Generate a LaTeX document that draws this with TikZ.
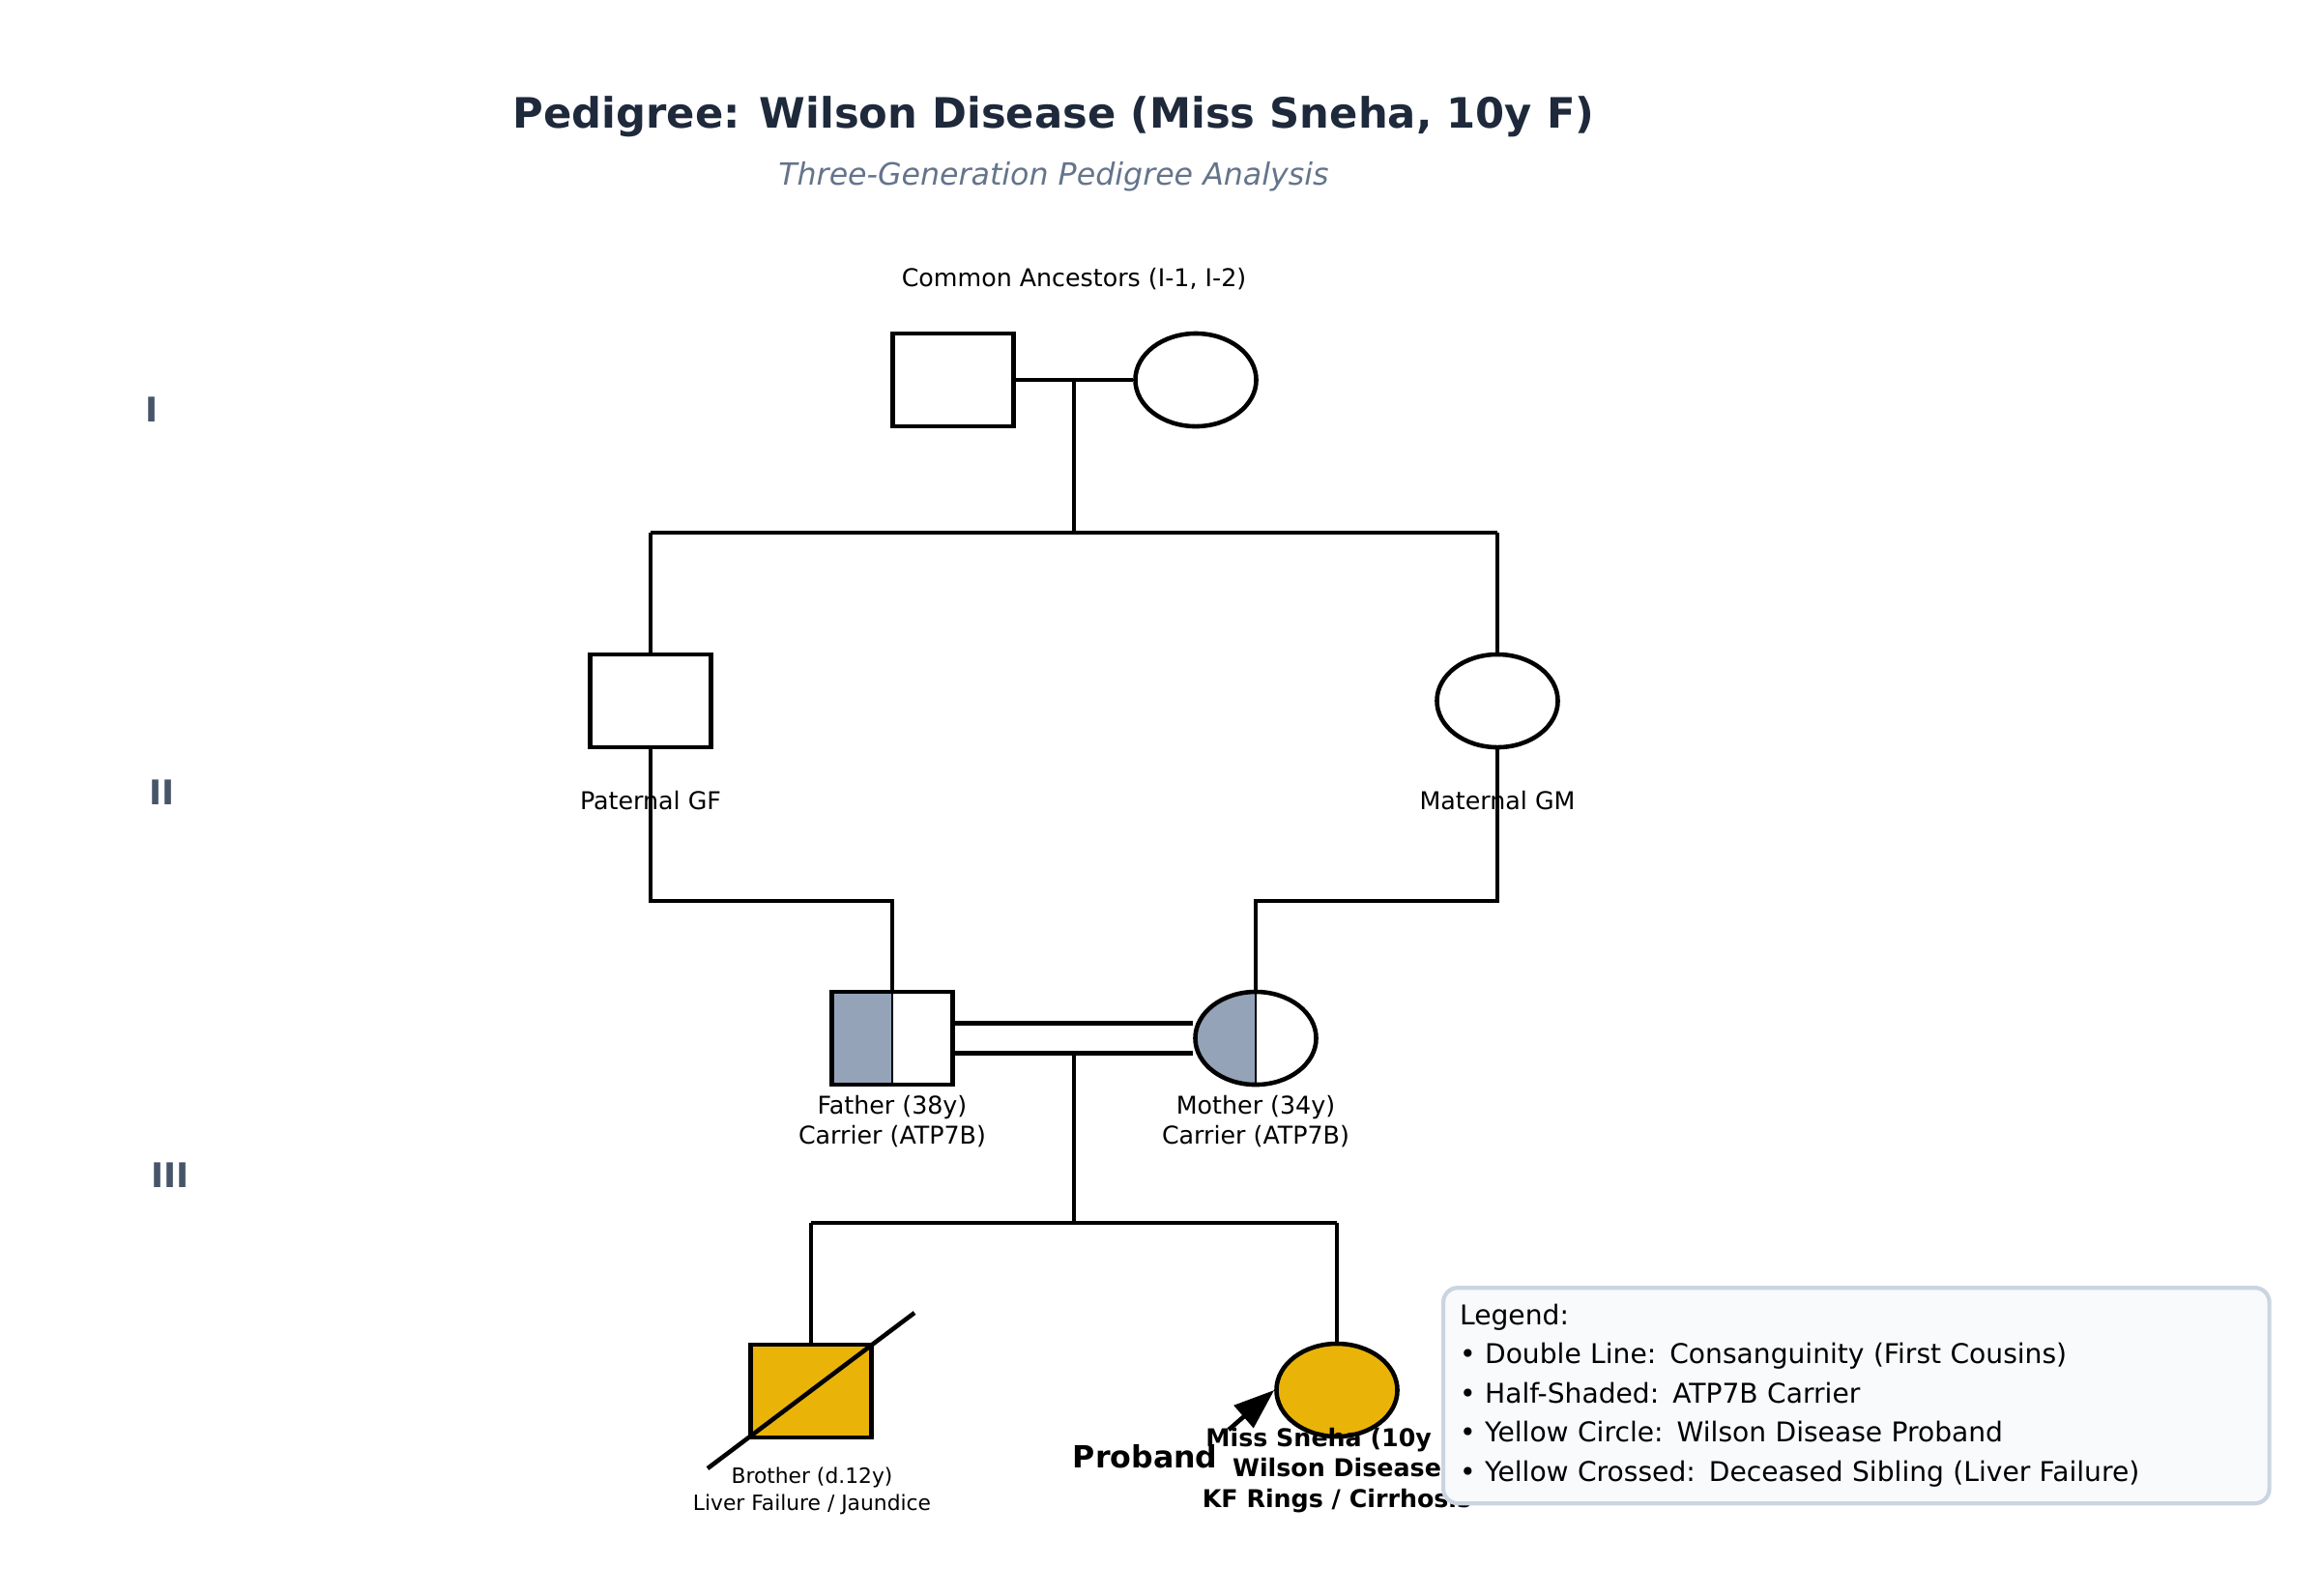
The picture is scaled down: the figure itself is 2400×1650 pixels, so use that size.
\documentclass[tikz,border=0pt]{standalone}
\usepackage{fontspec}
\setmainfont{DejaVu Sans}
\usetikzlibrary{shapes.geometric,arrows.meta}

\definecolor{carrier}{HTML}{94A3B8}
\definecolor{affected}{HTML}{EAB308}
\definecolor{titlecol}{HTML}{1E293B}
\definecolor{subcol}{HTML}{64748B}
\definecolor{gencol}{HTML}{475569}
\definecolor{legfill}{HTML}{F8FAFC}
\definecolor{legdraw}{HTML}{CBD5E1}

\tikzset{
  male/.style={draw,line width=1.3pt,rectangle,minimum width=1.25cm,minimum height=0.96cm,inner sep=0pt},
  female/.style={draw,line width=1.3pt,ellipse,minimum width=1.25cm,minimum height=0.96cm,inner sep=0pt},
  halfshade/.style={path picture={\fill[carrier] (path picture bounding box.south west) rectangle (path picture bounding box.north);
    \draw[line width=0.5pt] (path picture bounding box.south) -- (path picture bounding box.north);}},
  line/.style={line width=1.3pt},
  lab/.style={font=\fontsize{7.2}{9}\selectfont,align=center},
  gen/.style={font=\fontsize{10}{12}\selectfont\bfseries,text=gencol},
}

\begin{document}
\begin{tikzpicture}[x=0.01cm,y=-0.01cm]
\useasboundingbox (0,0) rectangle (2400,1650);

% titles
\node[font=\fontsize{12.3}{15}\selectfont\bfseries,text=titlecol] (title) at (1090,121) {Pedigree: Wilson Disease (Miss Sneha, 10y F)};
\node[font=\fontsize{9}{11}\selectfont\itshape,text=subcol] (subtitle) at (1090,183) {Three-Generation Pedigree Analysis};

% generations
\node[gen] (genI) at (157,424) {I};
\node[gen] (genII) at (168,820) {II};
\node[gen] (genIII) at (176,1216) {III};

% generation I
\node[male] (anc1) at (986,393) {};
\node[female] (anc2) at (1237,393) {};
\node[lab] (anclab) at (1111,289) {Common Ancestors (I-1, I-2)};
\coordinate (m1) at (1111,393);
\coordinate (s1) at (1111,551);
\draw[line] (anc1) -- (anc2);
\draw[line] (m1) -- (s1);
\draw[line] (673,551) coordinate (s1l) -- (1549,551) coordinate (s1r);

% generation II
\node[male] (gf) at (673,725) {};
\node[female] (gm) at (1549,725) {};
\node[lab] (gflab) at (673,828) {Paternal GF};
\node[lab] (gmlab) at (1549,828) {Maternal GM};
\draw[line] (s1l) -- (gf.north);
\draw[line] (s1r) -- (gm.north);

% generation III parents
\node[male,halfshade] (father) at (923,1074) {};
\node[female,halfshade] (mother) at (1299,1074) {};
\node[lab] (fatherlab) at (923,1160) {Father (38y)\\Carrier (ATP7B)};
\node[lab] (motherlab) at (1299,1160) {Mother (34y)\\Carrier (ATP7B)};
\draw[line] (gf.south) -- (673,932) -| (father.north);
\draw[line] (gm.south) -- (1549,932) -| (mother.north);
\draw[line] ([yshift=0.155cm]father.east) -- ([yshift=0.155cm]father.east -| mother.west);
\draw[line] ([yshift=-0.155cm]father.east) -- ([yshift=-0.155cm]father.east -| mother.west);
\coordinate (m2) at (1111,1089);
\coordinate (s2) at (1111,1265);
\draw[line] (m2) -- (s2);

% children
\node[male,fill=affected] (brother) at (839,1439) {};
\node[female,fill=affected] (proband) at (1383,1438) {};
\draw[line] (839,1265) -- (brother.north);
\draw[line] (1383,1265) -- (proband.north);
\draw[line] (839,1265) -- (1383,1265);
\draw[line] (732,1519) -- (946,1358);
\node[font=\fontsize{6.2}{8}\selectfont,align=center] (brotherlab) at (840,1542) {Brother (d.12y)\\Liver Failure / Jaundice};
\node[font=\fontsize{7.2}{9}\selectfont\bfseries,align=center] (probandlab) at (1383,1521) {Miss Sneha (10y F)\\Wilson Disease\\KF Rings / Cirrhosis};
\node[font=\fontsize{9}{11}\selectfont\bfseries,anchor=east] (probtag) at (1272,1507) {Proband};
\coordinate (arrtail) at (1271,1479);
\draw[line,-{Triangle[length=0.42cm,width=0.3cm]}] (arrtail) -- (proband.west);

% legend
\node[draw=legdraw,line width=1.2pt,fill=legfill,rounded corners=0.15cm,anchor=north west,align=left,
  font=\fontsize{8}{11.5}\selectfont,text width=8.2cm,inner xsep=0.17cm,inner ysep=0.17cm] (legend) at (1491,1330)
  {Legend:\\
   • Double Line: Consanguinity (First Cousins)\\
   • Half-Shaded: ATP7B Carrier\\
   • Yellow Circle: Wilson Disease Proband\\
   • Yellow Crossed: Deceased Sibling (Liver Failure)};

\end{tikzpicture}
\end{document}
